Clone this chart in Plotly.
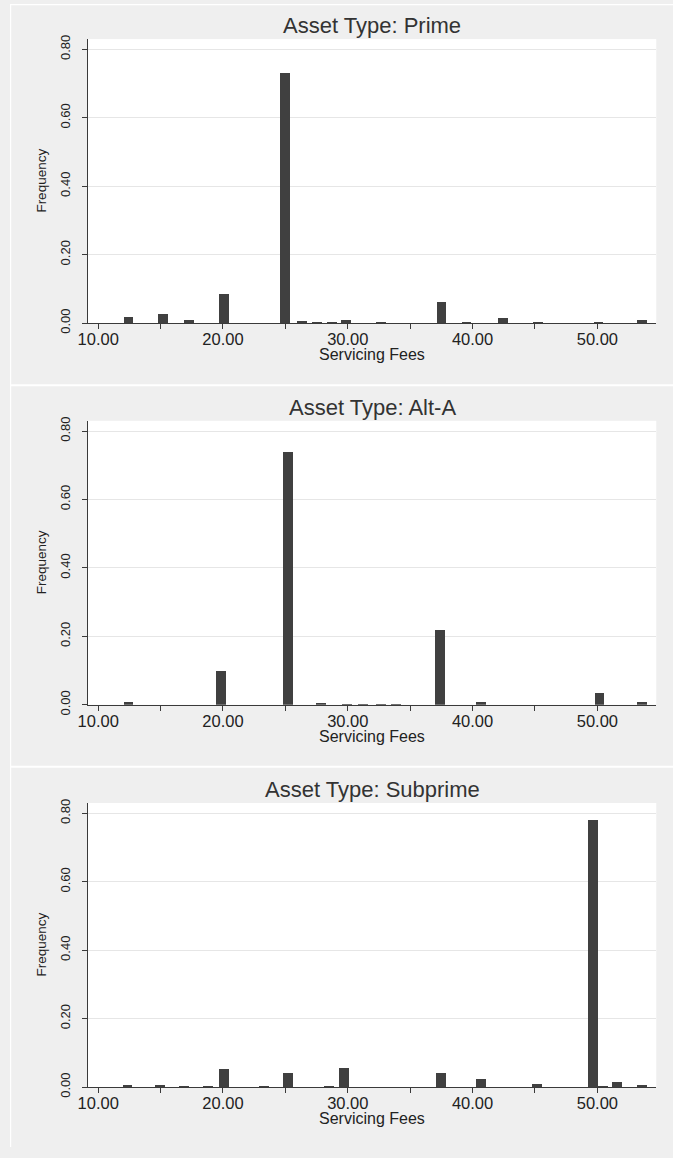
import plotly.graph_objects as go

W, H = 673, 1158

panel_titles = ["Asset Type: Prime", "Asset Type: Alt-A", "Asset Type: Subprime"]
x_title = "Servicing Fees"
y_title = "Frequency"

prime_fee = [12.41, 15.17, 17.29, 20.08, 24.96, 26.3, 27.5, 28.7, 29.85, 32.67,
             37.5, 39.5, 42.4, 45.2, 50.08, 53.53]
prime_freq = [0.018, 0.025, 0.0095, 0.085, 0.73, 0.007, 0.002, 0.002, 0.010, 0.0015,
              0.0615, 0.002, 0.015, 0.002, 0.004, 0.010]

alta_fee = [12.41, 19.83, 25.19, 27.82, 29.93, 31.2, 32.67, 33.85, 37.35, 40.64, 50.16, 53.53]
alta_freq = [0.009, 0.099, 0.74, 0.005, 0.002, 0.0015, 0.0015, 0.0015, 0.22, 0.009, 0.035, 0.009]

sub_fee = [12.33, 14.96, 16.83, 18.80, 20.06, 23.28, 25.19, 28.45, 29.68, 37.45,
           40.66, 45.16, 49.64, 50.43, 51.56, 53.53]
sub_freq = [0.0065, 0.0065, 0.004, 0.004, 0.053, 0.003, 0.041, 0.003, 0.056, 0.041,
            0.024, 0.0095, 0.78, 0.003, 0.015, 0.0065]

panels = [(prime_fee, prime_freq), (alta_fee, alta_freq), (sub_fee, sub_freq)]

x_tick_vals = [10, 15, 20, 25, 30, 35, 40, 45, 50]
x_tick_text = ["10.00", "", "20.00", "", "30.00", "", "40.00", "", "50.00"]
y_tick_vals = [0, 0.2, 0.4, 0.6, 0.8]
y_tick_text = ["0.00", "0.20", "0.40", "0.60", "0.80"]

bin_width = 0.79
x_range = [9.17, 54.72]
y_range = [0, 0.83]

FONT = "Liberation Sans, Arial, sans-serif"
BG = "#EFEFEF"
BAR = "#404040"
AXC = "#3a3a3a"

# pixel geometry
plot_left, plot_right = 79, 656
zero_px = [323.3, 710.0, 1097.3]
px_per_unit = 346.7
panel_h = 386.7

def xp(px):
    return px / W

def yp(py):
    return 1 - py / H

fig = go.Figure()
layout = dict(
    width=W, height=H, autosize=False,
    margin=dict(l=0, r=0, t=0, b=0),
    paper_bgcolor=BG, plot_bgcolor="white",
    showlegend=False, bargap=0,
    font=dict(family=FONT, color="#333333"),
)
annotations = []
shapes = []

for i, (fees, freqs) in enumerate(panels):
    n = "" if i == 0 else str(i + 1)
    bottom = zero_px[i]
    top = bottom - y_range[1] * px_per_unit
    fig.add_trace(go.Bar(
        x=fees, y=freqs, width=[bin_width] * len(fees),
        marker=dict(color=BAR, line=dict(width=0)),
        xaxis="x" + n, yaxis="y" + n, hoverinfo="x+y",
    ))
    layout["xaxis" + n] = dict(
        domain=[xp(plot_left), xp(plot_right)], range=x_range,
        anchor="y" + n, showgrid=False, zeroline=False,
        showline=True, linecolor=AXC, linewidth=1,
        ticks="outside", ticklen=5, tickcolor=AXC, tickwidth=1,
        tickvals=x_tick_vals, ticktext=x_tick_text,
        tickfont=dict(size=16.5, color="#222222", family=FONT),
        ticklabelstandoff=-4,
        fixedrange=True,
    )
    layout["yaxis" + n] = dict(
        domain=[yp(bottom), yp(top)], range=y_range,
        anchor="x" + n, showgrid=True, gridcolor="#E6E6E6", gridwidth=1,
        zeroline=False, showline=True, linecolor=AXC, linewidth=1,
        ticks="outside", ticklen=5, tickcolor=AXC, tickwidth=1,
        tickvals=y_tick_vals, ticktext=y_tick_text, tickangle=-90,
        tickfont=dict(size=13, color="#222222", family=FONT),
        ticklabelstandoff=7,
        fixedrange=True,
    )
    ptop = i * panel_h
    annotations.append(dict(
        text=panel_titles[i], x=xp((plot_left + plot_right) / 2), y=yp(ptop + 22),
        xref="paper", yref="paper", showarrow=False, xanchor="center", yanchor="middle",
        font=dict(size=22, color="#333333", family=FONT),
    ))
    annotations.append(dict(
        text=x_title, x=xp((plot_left + plot_right) / 2), y=yp(bottom + 32),
        xref="paper", yref="paper", showarrow=False, xanchor="center", yanchor="middle",
        font=dict(size=16, color="#222222", family=FONT),
    ))
    annotations.append(dict(
        text=y_title, x=xp(32), y=yp((top + bottom) / 2), textangle=-90,
        xref="paper", yref="paper", showarrow=False, xanchor="center", yanchor="middle",
        font=dict(size=13.5, color="#222222", family=FONT),
    ))

# white separators between the panels and thin outer border
for py in [385.3, 771.8]:
    shapes.append(dict(type="rect", xref="paper", yref="paper",
                       x0=0, x1=1, y0=yp(py + 2), y1=yp(py),
                       fillcolor="white", line=dict(width=0), layer="above"))
shapes.append(dict(type="rect", xref="paper", yref="paper", x0=0, x1=xp(1.2), y0=0, y1=1,
                   fillcolor="white", line=dict(width=0), layer="above"))
shapes.append(dict(type="rect", xref="paper", yref="paper", x0=0, x1=1, y0=yp(1.2), y1=1,
                   fillcolor="white", line=dict(width=0), layer="above"))

layout["annotations"] = annotations
layout["shapes"] = shapes
fig.update_layout(**layout)
fig.write_html(
    "out.html",
    config={"displayModeBar": False, "staticPlot": False},
    post_script="document.body.style.margin='0';document.body.style.padding='0';"
                "document.documentElement.style.overflow='hidden';",
)
